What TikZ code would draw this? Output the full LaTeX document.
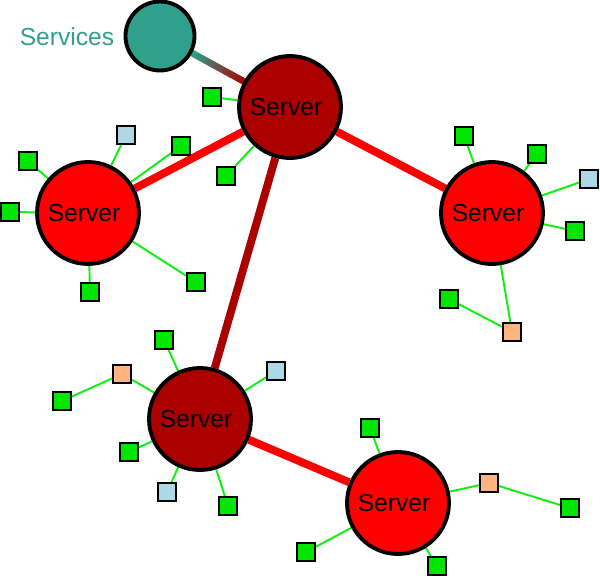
\documentclass[tikz,border=0pt]{standalone}
\usepackage{fontspec}
\setmainfont{Liberation Sans}
\usetikzlibrary{calc,backgrounds}

\definecolor{svcteal}{HTML}{2FA08A}
\definecolor{srvdark}{HTML}{AA0000}
\definecolor{srvred}{HTML}{FF0000}
\definecolor{devgreen}{HTML}{00E600}
\definecolor{leafgreen}{HTML}{10F010}
\definecolor{devblue}{HTML}{ADD8E6}
\definecolor{devpeach}{HTML}{FFB380}

\begin{document}
\begin{tikzpicture}[x=0.02cm, y=-0.02cm,
    server/.style={circle, draw=black, line width=2.2pt, minimum size=2.04cm, inner sep=0pt, font=\fontsize{14}{16}\selectfont},
    device/.style={rectangle, draw=black, line width=1.1pt, minimum size=0.36cm, inner sep=0pt},
    link/.style={line width=4.5pt},
    leaf/.style={leafgreen, line width=1.1pt}]
    \useasboundingbox (0,0) rectangle (600,576);

    % Servicios
    \node[circle, draw=black, line width=2.2pt, fill=svcteal, minimum size=1.38cm] (svc) at (160,36) {};
    \node[text=svcteal, font=\fontsize{14}{16}\selectfont] (svclabel) at (67,37) {Services};

    % Servidores
    \node[server, fill=srvdark] (s1) at (290,107) {Server\kern0.16cm};
    \node[server, fill=srvred] (s2) at (88,213) {Server\kern0.16cm};
    \node[server, fill=srvred] (s3) at (492,213) {Server\kern0.16cm};
    \node[server, fill=srvdark] (s4) at (200,419) {Server\kern0.16cm};
    \node[server, fill=srvred] (s5) at (398,503) {Server\kern0.16cm};

    % Equipos
    \node[device, fill=devgreen] (d11) at (212,97) {};
    \node[device, fill=devgreen] (d12) at (226,176) {};

    \node[device, fill=devblue] (d21) at (126,135) {};
    \node[device, fill=devgreen] (d22) at (181,146) {};
    \node[device, fill=devgreen] (d23) at (28,161) {};
    \node[device, fill=devgreen] (d24) at (10,212) {};
    \node[device, fill=devgreen] (d25) at (90,292) {};
    \node[device, fill=devgreen] (d26) at (196,282) {};

    \node[device, fill=devgreen] (d31) at (464,136) {};
    \node[device, fill=devgreen] (d32) at (537,154) {};
    \node[device, fill=devblue] (d33) at (589,179) {};
    \node[device, fill=devgreen] (d34) at (575,231) {};
    \node[device, fill=devpeach] (d35) at (512,332) {};
    \node[device, fill=devgreen] (d36) at (449,299) {};

    \node[device, fill=devgreen] (d41) at (164,340) {};
    \node[device, fill=devpeach] (d42) at (122,374) {};
    \node[device, fill=devgreen] (d43) at (62,401) {};
    \node[device, fill=devblue] (d44) at (276,371) {};
    \node[device, fill=devgreen] (d45) at (129,452) {};
    \node[device, fill=devblue] (d46) at (167,492) {};
    \node[device, fill=devgreen] (d47) at (228,506) {};

    \node[device, fill=devgreen] (d51) at (370,428) {};
    \node[device, fill=devpeach] (d52) at (489,483) {};
    \node[device, fill=devgreen] (d53) at (570,508) {};
    \node[device, fill=devgreen] (d54) at (306,552) {};
    \node[device, fill=devgreen] (d55) at (437,566) {};

    \begin{scope}[on background layer]
        % Enlace con degradado
        \foreach \i in {0,...,19}{
            \pgfmathtruncatemacro{\p}{100-5*\i}
            \draw[line width=3.8pt, svcteal!\p!srvdark]
                ($(svc.-28.6)!{\i/20}!(s1.151.4)$) -- ($(svc.-28.6)!{(\i+1.3)/20}!(s1.151.4)$);
        }

        % Enlaces entre servidores
        \draw[link, srvred] (s1) -- (s2);
        \draw[link, srvred] (s1) -- (s3);
        \draw[link, srvdark] (s1) -- (s4);
        \draw[link, srvred] (s4) -- (s5);

        % Lineas verdes
        \draw[leaf] (s1) -- (d11);
        \draw[leaf] (s1) -- (d12);
        \draw[leaf] (s2) -- (d21);
        \draw[leaf] (s2) -- (d22);
        \draw[leaf] (s2) -- (d23);
        \draw[leaf] (s2) -- (d24);
        \draw[leaf] (s2) -- (d25);
        \draw[leaf] (s2) -- (d26);
        \draw[leaf] (s3) -- (d31);
        \draw[leaf] (s3) -- (d32);
        \draw[leaf] (s3) -- (d33);
        \draw[leaf] (s3) -- (d34);
        \draw[leaf] (s3) -- (d35);
        \draw[leaf] (d35) -- (d36);
        \draw[leaf] (s4) -- (d41);
        \draw[leaf] (s4) -- (d42);
        \draw[leaf] (d42) -- (d43);
        \draw[leaf] (s4) -- (d44);
        \draw[leaf] (s4) -- (d45);
        \draw[leaf] (s4) -- (d46);
        \draw[leaf] (s4) -- (d47);
        \draw[leaf] (s5) -- (d51);
        \draw[leaf] (s5) -- (d52);
        \draw[leaf] (d52) -- (d53);
        \draw[leaf] (s5) -- (d54);
        \draw[leaf] (s5) -- (d55);
    \end{scope}
\end{tikzpicture}
\end{document}
